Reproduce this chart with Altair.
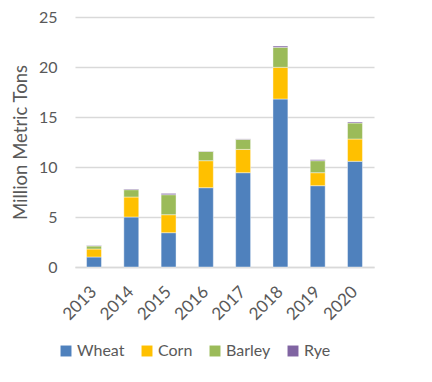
import altair as alt
import pandas as pd

years = ["2013", "2014", "2015", "2016", "2017", "2018", "2019", "2020"]
crops = ["Wheat", "Corn", "Barley", "Rye"]
wheat = [1.0, 5.0, 3.43, 7.93, 9.43, 16.8, 8.13, 10.57]
corn = [0.8, 2.0, 1.8, 2.7, 2.33, 3.17, 1.3, 2.23]
barley = [0.3, 0.73, 2.0, 0.93, 1.0, 2.0, 1.2, 1.6]
rye = [0.05, 0.07, 0.13, 0.03, 0.05, 0.13, 0.1, 0.1]
colors = ["#4f81bd", "#ffc000", "#9bbb59", "#8064a2"]

rows = []
for i, y in enumerate(years):
    for k, (c, vals) in enumerate(zip(crops, [wheat, corn, barley, rye])):
        rows.append({"Year": y, "Crop": c, "Value": vals[i], "ord": k})
df = pd.DataFrame(rows)

font = "Lato"
chart = alt.Chart(df).mark_bar(stroke="white", strokeWidth=0.6, strokeOpacity=0.7).encode(
    x=alt.X("Year:N", sort=years, title=None,
            scale=alt.Scale(paddingInner=0.6, paddingOuter=0.31),
            axis=alt.Axis(labelAngle=-45, labelAlign="right", labelBaseline="middle",
                          labelFontSize=17, labelColor="#595959", labelFont=font,
                          labelPadding=22, ticks=False, domainColor="#d9d9d9",
                          domainWidth=1.5)),
    y=alt.Y("Value:Q", stack="zero", title="Million Metric Tons",
            scale=alt.Scale(domain=[0, 25], nice=False),
            axis=alt.Axis(values=[0, 5, 10, 15, 20, 25], labelFontSize=16,
                          labelColor="#595959", labelFont=font, ticks=False,
                          domain=False, gridColor="#d9d9d9", gridWidth=1.5,
                          labelPadding=18, titleFont=font, titleFontSize=18.5,
                          titleFontWeight="normal", titleColor="#595959",
                          titlePadding=8)),
    color=alt.Color("Crop:N", sort=crops,
                    scale=alt.Scale(domain=crops, range=colors),
                    legend=alt.Legend(orient="none", direction="horizontal",
                                      legendX=-17, legendY=326, title=None,
                                      symbolType="square", symbolSize=120,
                                      symbolStrokeWidth=0, labelFont=font,
                                      labelFontSize=16, labelColor="#595959",
                                      columnPadding=14, labelOffset=3)),
    order=alt.Order("ord:Q", sort="ascending"),
).properties(
    width=299, height=250,
    autosize=alt.AutoSizeParams(type="none"),
    padding={"left": 67, "top": 9, "right": 50, "bottom": 100},
).configure_view(stroke=None)

chart.save("out.html", embed_options={"renderer": "svg", "actions": False})
